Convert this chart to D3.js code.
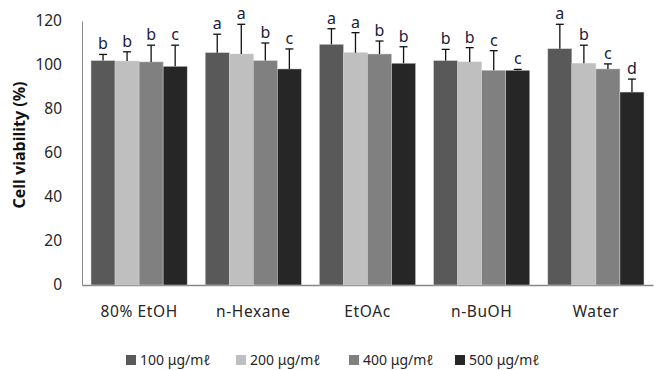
<!DOCTYPE html>
<html><head><meta charset="utf-8">
<script src="https://cdn.jsdelivr.net/npm/d3@7"></script>
<style>body{margin:0;background:#fff}svg{display:block}text{font-family:"Noto Sans","Noto Sans CJK KR",sans-serif}</style>
</head><body><svg id="c" width="658" height="370"></svg>
<script>
const categories = ["80% EtOH","n-Hexane","EtOAc","n-BuOH","Water"];
const seriesNames = ["100 μg/mℓ","200 μg/mℓ","400 μg/mℓ","500 μg/mℓ"];
const s100 = [102.0,105.6,109.4,102.0,107.4];
const s200 = [101.8,105.0,105.6,101.4,100.8];
const s400 = [101.4,102.0,105.0,97.6,98.2];
const s500 = [99.4,98.2,100.8,97.6,87.7];
const e100 = [2.8,8.4,7.1,5.1,11.1];
const e200 = [4.2,13.5,9.1,6.5,8.2];
const e400 = [7.6,8.0,5.9,8.9,2.3];
const e500 = [9.6,9.1,7.5,0.4,5.9];
const l100 = ["b","a","a","b","a"];
const l200 = ["b","a","a","b","b"];
const l400 = ["b","b","b","c","c"];
const l500 = ["c","c","b","c","d"];
const yTicks = [0,20,40,60,80,100,120];
const colors = ["#595959","#bfbfbf","#808080","#262626"];

const values=[s100,s200,s400,s500], errs=[e100,e200,e400,e500], lets=[l100,l200,l400,l500];
const svg=d3.select("#c");
const L=82,R=653,T=21,B=285;
const x0=d3.scaleBand().domain(categories).range([L,R]).paddingInner(0.158).paddingOuter(0.079);
const x1=d3.scaleBand().domain(d3.range(4)).range([0,x0.bandwidth()]);
const y=d3.scaleLinear().domain([0,120]).range([B,T]);

const yAxis=svg.append("g").attr("transform",`translate(${L},0)`).call(d3.axisLeft(y).tickValues(yTicks).tickSize(0).tickPadding(20));
yAxis.select(".domain").attr("stroke","#868686");
yAxis.selectAll("text").attr("font-size",15.5).attr("fill","#262626");
svg.append("text").attr("transform",`translate(25,145) rotate(-90)`).attr("text-anchor","middle").attr("font-size",16).attr("font-weight","bold").attr("fill","#111").text("Cell viability (%)");

const xAxis=svg.append("g").attr("transform",`translate(0,${B})`).call(d3.axisBottom(x0).tickSize(0).tickPadding(21));
xAxis.select(".domain").attr("stroke","#868686").attr("stroke-width",1.5);
xAxis.selectAll("text").attr("font-size",15.5).attr("fill","#262626").attr("letter-spacing",0.6);

categories.forEach((c,i)=>{
  for(let k=0;k<4;k++){
    const v=values[k][i], e=errs[k][i];
    const bx=x0(c)+x1(k), bw=x1.bandwidth(), cx=bx+bw/2;
    svg.append("rect").attr("x",bx).attr("y",y(v)).attr("width",bw).attr("height",y(0)-y(v)).attr("fill",colors[k]).attr("stroke","#d0d0d0").attr("stroke-width",0.5);
    svg.append("line").attr("x1",cx).attr("x2",cx).attr("y1",y(v)).attr("y2",y(v+e)).attr("stroke","#111").attr("stroke-width",1.3);
    svg.append("line").attr("x1",cx-4).attr("x2",cx+4).attr("y1",y(v+e)).attr("y2",y(v+e)).attr("stroke","#111").attr("stroke-width",1.3);
    svg.append("text").attr("x",cx).attr("y",y(v+e)-5).attr("text-anchor","middle").attr("font-size",16).attr("fill","#1a1a3a").text(lets[k][i]);
  }
});

const legX=[126,236,349,455];
seriesNames.forEach((n,k)=>{
  svg.append("rect").attr("x",legX[k]).attr("y",355).attr("width",10).attr("height",10).attr("fill",colors[k]);
  svg.append("text").attr("x",legX[k]+14).attr("y",365).attr("font-size",14).attr("fill","#262626").text(n);
});
</script></body></html>
